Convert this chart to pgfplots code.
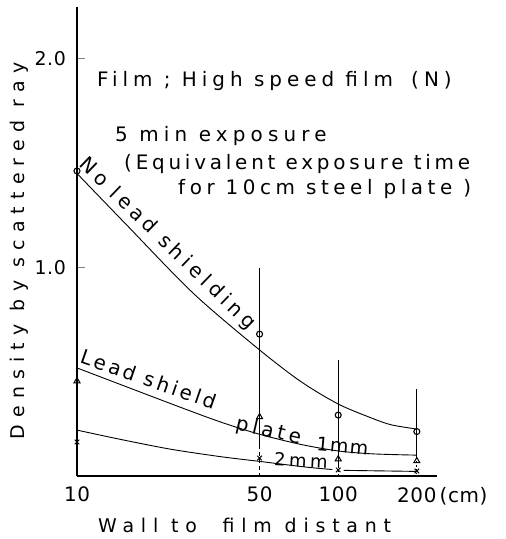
\documentclass[border=0pt]{standalone}
\usepackage{pgfplots}
\pgfplotsset{compat=1.18}
\usepackage{fontspec}
\setmainfont{DejaVu Sans}
\newfontfamily\fLa[LetterSpace=25]{DejaVu Sans}
\newfontfamily\fLb[LetterSpace=26]{DejaVu Sans}
\newfontfamily\fLc[LetterSpace=19]{DejaVu Sans}
\newfontfamily\fLd[LetterSpace=23]{DejaVu Sans}
\newfontfamily\fN[LetterSpace=23]{DejaVu Sans}
\newfontfamily\fB[LetterSpace=16]{DejaVu Sans}
\newfontfamily\fC[LetterSpace=20]{DejaVu Sans}
\newfontfamily\fY[LetterSpace=38]{DejaVu Sans}
\newfontfamily\fX[LetterSpace=36]{DejaVu Sans}
\newfontfamily\fT[LetterSpace=3]{DejaVu Sans}
\newfontfamily\fM[LetterSpace=8]{DejaVu Sans}
\newcommand\fs[1]{\fontsize{#1}{#1}\selectfont}

\begin{document}
\begin{tikzpicture}[x=1bp,y=1bp]
\path[use as bounding box] (-77,-63) rectangle (429,476);
\begin{axis}[
  at={(0,0)}, anchor=south west,
  scale only axis, width=360bp, height=469bp,
  xmode=log, xmin=10, xmax=238.9, ymin=0, ymax=2.248,
  axis x line=bottom, axis y line=left,
  axis line style={-, line width=1.3bp},
  clip=false,
  xtick={10,50,100,200},
  xticklabels={10,50,100,200\rlap{\,(cm)}},
  xtick style={draw=none},
  xminorticks=false,
  ytick={1,2}, yticklabels={1.0,2.0},
  tick align=inside,
  major tick length=8bp,
  ytick style={line width=1.1bp},
  xticklabel style={anchor=north, inner sep=0pt, yshift=-11bp, font=\fT\fs{20}},
  yticklabel style={anchor=east, inner sep=0pt, xshift=-11bp, font=\fT\fs{19}},
]
% left extension of the x axis
\draw[line width=1.3bp] (axis cs:10,0) -- ++(-19bp,0);

% vertical range lines
\addplot[line width=1.3bp] coordinates {(50,0.997) (50,0.15)};
\addplot[line width=1.1bp, dash pattern=on 4bp off 3bp] coordinates {(50,0.15) (50,0)};
\addplot[line width=1.3bp] coordinates {(100,0.556) (100,0.05)};
\addplot[line width=1.0bp, dash pattern=on 2bp off 2bp] coordinates {(100,0.05) (100,0.01)};
\addplot[line width=1.3bp] coordinates {(200,0.417) (200,0.09)};
\addplot[line width=1.0bp, dash pattern=on 2bp off 2bp] coordinates {(200,0.09) (200,0.01)};

% fitted curves
\addplot[smooth, line width=0.9bp] coordinates {
  (10,1.45) (15.5,1.203) (27.8,0.877) (48.9,0.614) (71.5,0.455) (100,0.345) (136,0.275) (160,0.245) (200,0.225)};
\addplot[smooth, line width=0.9bp] coordinates {
  (10,0.518) (24.8,0.33) (36.2,0.255) (50,0.20) (71.5,0.152) (100,0.12) (136,0.106) (200,0.10)};
\addplot[smooth, line width=0.9bp] coordinates {
  (10,0.22) (14.6,0.176) (22.7,0.129) (35.3,0.093) (50,0.07) (75,0.043) (95,0.031)};
\addplot[line width=0.9bp] coordinates {(105,0.027) (200,0.022)};

% markers
\addplot[only marks, mark=o, mark size=3bp, mark options={fill=white, line width=1.1bp}]
  coordinates {(10,1.462) (50,0.68) (100,0.292) (200,0.213)};
\addplot[only marks, mark=triangle, mark size=3.5bp, mark options={fill=white, line width=1bp}]
  coordinates {(10,0.455) (50,0.283) (100,0.081) (200,0.072)};
\addplot[only marks, mark=x, mark size=3.2bp, mark options={line width=1bp}]
  coordinates {(10,0.163) (50,0.086) (100,0.029) (200,0.024)};
\end{axis}

% annotation text
\node[anchor=base west, inner sep=0, font=\fLa\fs{20}] at (20,389) {Film ; High speed film \hspace{7bp}(N)};
\node[anchor=base west, inner sep=0, font=\fLb\fs{20}] at (38,334) {5 min exposure};
\node[anchor=base west, inner sep=0, font=\fLc\fs{20}] at (47,306) {(Equivalent exposure time};
\node[anchor=base west, inner sep=0, font=\fLd\fs{20}] at (101,281) {for 10cm steel plate )};

% axis titles
\node[anchor=base west, inner sep=0, font=\fX\fs{19}] at (21,-57) {Wall to \ film distant};
\node[anchor=base, rotate=90, inner sep=0, font=\fY\fs{19}] at (-52,225) {Density by scattered ray};

% curve labels
\node[rotate=-44, inner sep=0, font=\fN\fs{20}] at (90,232) {No lead shielding};
\node[rotate=-19, inner sep=0, font=\fB\fs{20}] at (72,97) {Lead shield};
\node[rotate=-13, inner sep=0, font=\fC\fs{20}] at (191.5,44.5) {plate};
\node[rotate=-5, inner sep=0, font=\fM\fs{19}] at (265.5,30) {1mm};
\node[rotate=-3, inner sep=0, font=\fC\fs{18}] at (224,16) {2mm};
\end{tikzpicture}
\end{document}
